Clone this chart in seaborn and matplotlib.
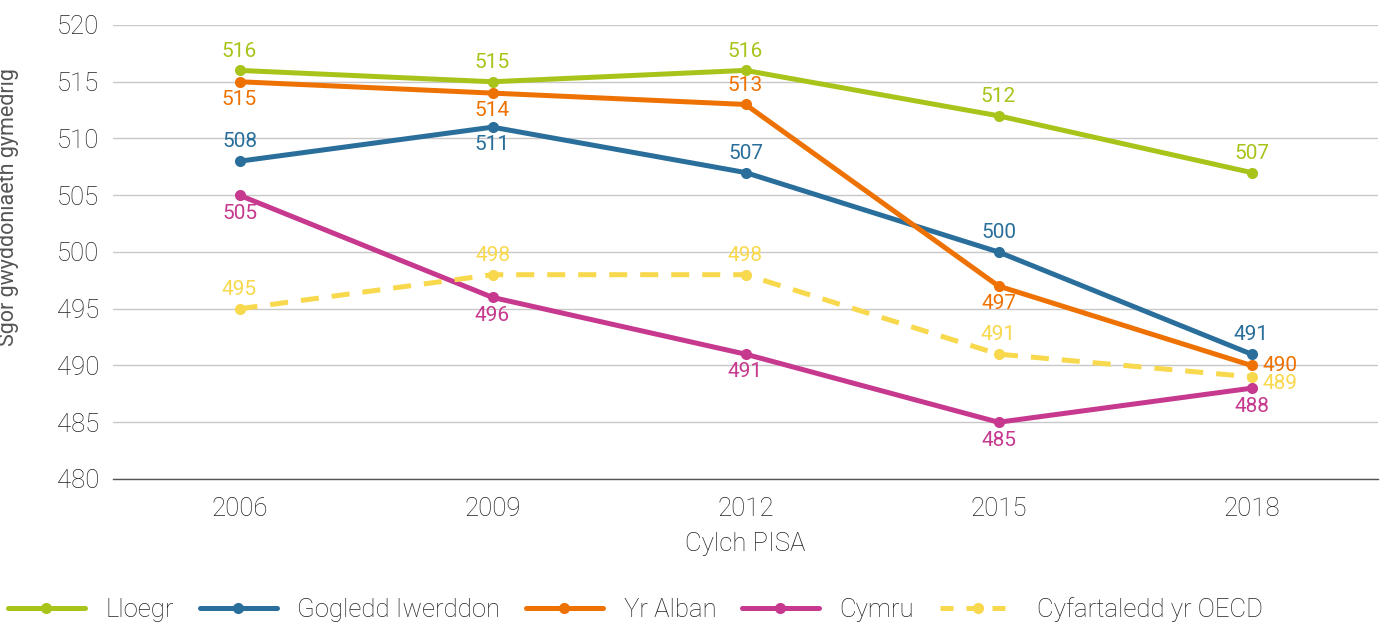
import matplotlib
matplotlib.use("Agg")
import matplotlib.pyplot as plt
import seaborn as sns
import pandas as pd
from matplotlib.lines import Line2D

years = ["2006", "2009", "2012", "2015", "2018"]
series_names = ["Lloegr", "Gogledd Iwerddon", "Yr Alban", "Cymru", "Cyfartaledd yr OECD"]
lloegr = [516, 515, 516, 512, 507]
gogledd_iwerddon = [508, 511, 507, 500, 491]
yr_alban = [515, 514, 513, 497, 490]
cymru = [505, 496, 491, 485, 488]
oecd = [495, 498, 498, 491, 489]

colors = ["#A8C41A", "#2A6F9B", "#EE7203", "#C6398E", "#F8D84C"]
# label placement per point: 'a' above, 'b' below, 'r' right, 'rl' right and slightly lower
label_pos = [
    ["a", "a", "a", "a", "a"],
    ["a", "b", "a", "a", "a"],
    ["b", "b", "a", "b", "r"],
    ["b", "b", "b", "b", "b"],
    ["a", "a", "a", "a", "rl"],
]

values = [lloegr, gogledd_iwerddon, yr_alban, cymru, oecd]
rows = []
for name, vals in zip(series_names, values):
    for i, v in enumerate(vals):
        rows.append({"x": i, "Blwyddyn": years[i], "Sgor": v, "Gwlad": name})
df = pd.DataFrame(rows)

sns.set_theme(style="white")
plt.rcParams["font.family"] = ["Roboto", "DejaVu Sans"]

fig = plt.figure(figsize=(13.87, 6.23), dpi=100)
ax = fig.add_axes([113 / 1387, 1 - 479 / 623, (1378 - 113) / 1387, (479 - 25) / 623])

palette = dict(zip(series_names, colors))
dashes = {n: "" for n in series_names}
dashes["Cyfartaledd yr OECD"] = (3.6, 2.6)
sns.lineplot(data=df, x="x", y="Sgor", hue="Gwlad", style="Gwlad", palette=palette,
             dashes=dashes, markers={n: "o" for n in series_names}, markersize=8,
             markeredgewidth=0, linewidth=3.6, ax=ax, legend=False, zorder=3)

for si, (name, vals) in enumerate(zip(series_names, values)):
    for i, v in enumerate(vals):
        pos = label_pos[si][i]
        kw = dict(textcoords="offset points", color=colors[si], fontsize=15)
        if pos == "a":
            ax.annotate(str(v), (i, v), xytext=(0, 7), ha="center", va="bottom", **kw)
        elif pos == "b":
            ax.annotate(str(v), (i, v), xytext=(0, -6), ha="center", va="top", **kw)
        elif pos == "rl":
            ax.annotate(str(v), (i, v), xytext=(8, -5), ha="left", va="center", **kw)
        else:
            ax.annotate(str(v), (i, v), xytext=(8, 0), ha="left", va="center", **kw)

ax.set_xlim(-0.5, 4.5)
ax.set_ylim(480, 520)
ax.set_yticks(range(480, 521, 5))
ax.set_xticks(range(5))
ax.set_xticklabels(years)
ax.set_xticks([0.5, 1.5, 2.5, 3.5, 4.5], minor=True)
ax.tick_params(axis="x", which="major", length=0, pad=13, labelsize=18.5, colors="#222222")
ax.tick_params(axis="x", which="minor", length=11, width=1, color="#555555", direction="out")
ax.tick_params(axis="y", length=0, pad=10, labelsize=18.5, colors="#222222")
for lbl in ax.get_xticklabels() + ax.get_yticklabels():
    lbl.set_fontweight("light")
ax.grid(axis="y", color="#c8c8c8", linewidth=1)
ax.set_axisbelow(True)
for s in ["top", "right", "left"]:
    ax.spines[s].set_visible(False)
ax.spines["bottom"].set_color("#555555")
ax.spines["bottom"].set_linewidth(1)

ax.set_xlabel("Cylch PISA", fontsize=18.5, color="#222222", labelpad=8, fontweight="light")
ax.set_ylabel("Sgôr gwyddoniaeth gymedrig", fontsize=15.5, color="#555555")
ax.yaxis.set_label_coords(-0.0745, 0.60)

handles = []
for name, c in zip(series_names, colors):
    ls = (0, (2.6, 2.6)) if name == "Cyfartaledd yr OECD" else "-"
    handles.append(Line2D([], [], color=c, linewidth=3.6, linestyle=ls, marker="o",
                          markersize=8, markeredgewidth=0))
leg = fig.legend(handles, series_names, loc="center left", bbox_to_anchor=(0.0, 0.022),
                 ncol=5, frameon=False, fontsize=18.5, handlelength=3.0, columnspacing=1.0,
                 handletextpad=0.8, borderaxespad=0.0, borderpad=0.3)
for t in leg.get_texts():
    t.set_fontweight("light")
    t.set_color("#222222")

fig.savefig("out.png", dpi=100)
